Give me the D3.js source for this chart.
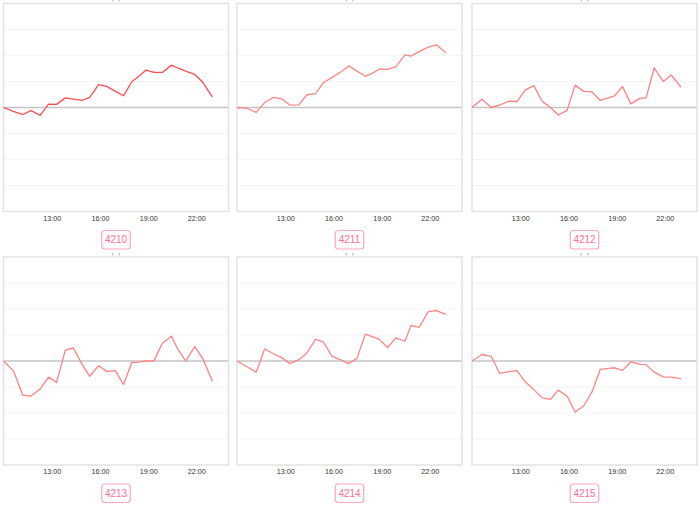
<!DOCTYPE html>
<html>
<head>
<meta charset="utf-8">
<script src="https://cdn.jsdelivr.net/npm/d3@7"></script>
<style>
html,body{margin:0;padding:0;background:#fff;}
svg{display:block;}
</style>
</head>
<body>
<svg id="chart" width="700" height="509"></svg>
<script>
// ---- data ----
const times = ["10:00","10:37","11:12","11:43","12:17","12:48","13:18","13:51","14:21","14:53","15:22","15:55","16:25",
               "16:57","17:28","17:59","18:30","18:52","19:22","19:53","20:27","20:50","21:20","21:54","22:24","23:00"];
const codes = ["4210","4211","4212","4213","4214","4215"];
const s4210 = [0,-0.15,-0.27,-0.12,-0.30,0.13,0.12,0.37,0.32,0.27,0.39,0.88,0.81,0.63,0.45,0.99,1.24,1.44,1.35,1.35,1.63,1.52,1.40,1.27,0.97,0.40];
const s4211 = [0,-0.03,-0.19,0.19,0.39,0.33,0.09,0.10,0.49,0.53,0.95,1.16,1.35,1.60,1.40,1.20,1.34,1.48,1.47,1.56,2.02,1.98,2.15,2.32,2.41,2.11];
const s4212 = [0,0.32,0,0.09,0.24,0.23,0.67,0.84,0.25,0,-0.29,-0.11,0.86,0.62,0.60,0.27,0.37,0.45,0.81,0.14,0.35,0.37,1.52,1.00,1.25,0.78];
const s4213 = [0,-0.37,-1.31,-1.35,-1.08,-0.62,-0.83,0.42,0.50,-0.12,-0.59,-0.18,-0.40,-0.37,-0.90,-0.06,-0.03,0,0.01,0.68,0.95,0.47,0,0.55,0.09,-0.78];
const s4214 = [0,-0.22,-0.43,0.46,0.28,0.12,-0.10,0.05,0.31,0.83,0.74,0.18,0.05,-0.10,0.10,1.03,0.92,0.83,0.52,0.89,0.76,1.37,1.29,1.90,1.94,1.79];
const s4215 = [0,0.25,0.18,-0.48,-0.41,-0.37,-0.80,-1.10,-1.41,-1.48,-1.12,-1.35,-1.96,-1.73,-1.19,-0.32,-0.28,-0.26,-0.36,-0.03,-0.13,-0.14,-0.43,-0.61,-0.62,-0.68];
const seriesList = [s4210,s4211,s4212,s4213,s4214,s4215];
const yTicks = [-4,-3,-2,-1,0,1,2,3,4];
const xTickLabels = ["13:00","16:00","19:00","22:00"];
const xStart = "10:00", xEnd = "24:00";

// ---- layout ----
const colLeft = [3.5, 237, 472];
const rowTop = [3.5, 257];
const pw = 225, ph = 208;
const lineColors = ["#ff4d4f","#ff8585","#ff8080","#ff8080","#ff8585","#ff8585"];

const parse = d3.timeParse("%H:%M");
const dates = times.map(parse);
const svg = d3.select("#chart");
const defs = svg.append("defs");

seriesList.forEach((vals, k) => {
  const col = k % 3, row = Math.floor(k / 3);
  const x0 = colLeft[col], y0 = rowTop[row];
  const x = d3.scaleTime()
    .domain([parse(xStart), xEnd === "24:00" ? d3.timeDay.offset(parse("00:00"), 1) : parse(xEnd)])
    .range([x0, x0 + pw]);
  const y = d3.scaleLinear().domain([-4, 4]).range([y0 + ph, y0]);

  const g = svg.append("g");

  // clipped title remnant
  const cid = "clipT" + k;
  defs.append("clipPath").attr("id", cid)
    .append("rect").attr("x", x0).attr("y", y0 - 4).attr("width", pw).attr("height", 3);
  g.append("text")
    .attr("clip-path", `url(#${cid})`)
    .attr("x", x0 + pw / 2).attr("y", y0 - 3.5)
    .attr("text-anchor", "middle")
    .attr("font-family", "DejaVu Sans, sans-serif")
    .attr("font-size", 10).attr("fill", "#8a90b0")
    .text("( )");

  // grid lines
  g.selectAll("line.grid").data(yTicks.filter(t => t !== 0 && Math.abs(t) !== 4)).enter()
    .append("line").attr("class", "grid")
    .attr("x1", x0).attr("x2", x0 + pw)
    .attr("y1", d => y(d)).attr("y2", d => y(d))
    .attr("stroke", "#f3f3f3").attr("stroke-width", 1);

  // zero line
  g.append("line")
    .attr("x1", x0).attr("x2", x0 + pw)
    .attr("y1", y(0)).attr("y2", y(0))
    .attr("stroke", "#c4c4c4").attr("stroke-width", 1.5);

  // frame
  g.append("rect")
    .attr("x", x0).attr("y", y0).attr("width", pw).attr("height", ph)
    .attr("fill", "none").attr("stroke", "#e2e2e2").attr("stroke-width", 1.5);

  // line
  const line = d3.line().x((d, i) => x(dates[i])).y(d => y(d));
  g.append("path").datum(vals)
    .attr("d", line)
    .attr("fill", "none")
    .attr("stroke", lineColors[k])
    .attr("stroke-width", 1.3)
    .attr("stroke-linejoin", "round");

  // x axis
  const ax = d3.axisBottom(x)
    .tickValues(xTickLabels.map(parse))
    .tickFormat(d3.timeFormat("%H:%M"))
    .tickSize(0).tickPadding(0);
  const axg = g.append("g").attr("transform", `translate(0,${y0 + ph + 4})`).call(ax);
  axg.select(".domain").remove();
  axg.selectAll("text")
    .attr("font-family", "Liberation Sans, Arial, sans-serif")
    .attr("font-size", 7.2)
    .attr("fill", "#333");

  // label box
  const cx = x0 + pw / 2;
  const bw = 28.5, bh = 18.5;
  const by = y0 + ph + 19;
  g.append("rect")
    .attr("x", cx - bw / 2).attr("y", by).attr("width", bw).attr("height", bh)
    .attr("rx", 3).attr("ry", 3)
    .attr("fill", "#fff").attr("stroke", "#ffa6bd").attr("stroke-width", 1.2);
  g.append("text")
    .attr("x", cx).attr("y", by + bh / 2 + 3.6)
    .attr("text-anchor", "middle")
    .attr("font-family", "Liberation Sans, Arial, sans-serif")
    .attr("font-size", 10)
    .attr("fill", "#ff6f94")
    .text(codes[k]);
});
</script>
</body>
</html>
